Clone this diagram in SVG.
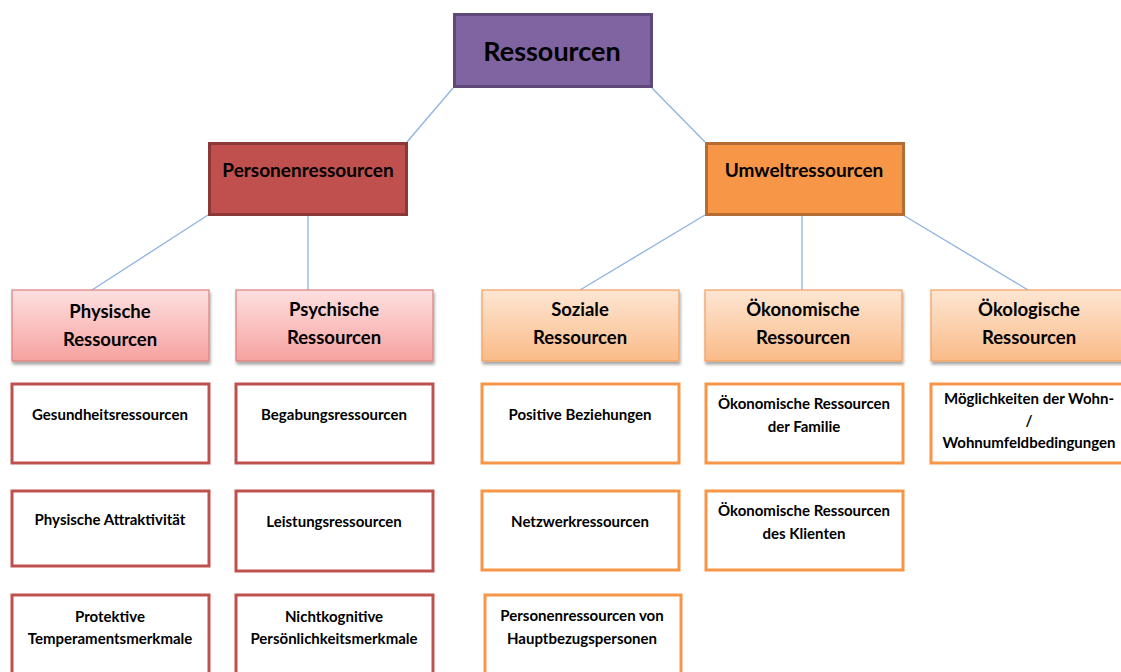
<svg xmlns="http://www.w3.org/2000/svg" width="1121" height="672" viewBox="0 0 1121 672">
<defs>
<linearGradient id="gRed" x1="0" y1="0" x2="0" y2="1"><stop offset="0" stop-color="#fde0e0"/><stop offset="1" stop-color="#f6a2a0"/></linearGradient>
<linearGradient id="gOr" x1="0" y1="0" x2="0" y2="1"><stop offset="0" stop-color="#fde6d3"/><stop offset="1" stop-color="#fabb88"/></linearGradient>
<filter id="sh" x="-10%" y="-10%" width="130%" height="140%"><feDropShadow dx="1" dy="3" stdDeviation="1.8" flood-color="#000" flood-opacity="0.35"/></filter>
<style>
text{font-family:Lato,"Liberation Sans",sans-serif;font-weight:bold;fill:#000;text-anchor:middle}
.t1{font-size:27px}
.t2{font-size:19px}
.t3{font-size:18.5px}
.t4{font-size:15px}
.conn line{stroke:#8db3e2;stroke-width:1.3}
.r2{fill:url(#gRed);stroke:#d9807e;stroke-width:1.2;filter:url(#sh)}
.o2{fill:url(#gOr);stroke:#f0a060;stroke-width:1.2;filter:url(#sh)}
.r3{fill:#fff;stroke:#c0504d;stroke-width:3}
.o3{fill:#fff;stroke:#f79646;stroke-width:3}
</style>
</defs>
<rect width="1121" height="672" fill="#fff"/>
<g class="conn" id="connectors">
<line x1="453" y1="88" x2="407" y2="142"/>
<line x1="652" y1="88" x2="705" y2="142"/>
<line x1="208" y1="215" x2="92" y2="290"/>
<line x1="308" y1="215" x2="308" y2="290"/>
<line x1="705" y1="215" x2="580" y2="290"/>
<line x1="802" y1="215" x2="802" y2="290"/>
<line x1="903" y1="215" x2="1028" y2="290"/>
</g>
<g id="n-ressourcen"><rect x="454.5" y="14.5" width="197" height="72" fill="#8064a2" stroke="#5f497a" stroke-width="3"/><text class="t1" x="552" y="61">Ressourcen</text></g>
<g id="n-personen"><rect x="209.5" y="143.5" width="197" height="71" fill="#c0504d" stroke="#8c3836" stroke-width="3"/><text class="t2" x="308" y="177">Personenressourcen</text></g>
<g id="n-umwelt"><rect x="706.5" y="143.5" width="197" height="71" fill="#f79646" stroke="#b66d31" stroke-width="3"/><text class="t2" x="804" y="177">Umweltressourcen</text></g>

<g id="n-physische"><rect class="r2" x="12" y="290" width="197" height="71"/><text class="t3" x="110" y="318">Physische</text><text class="t3" x="110" y="346">Ressourcen</text></g>
<g id="n-psychische"><rect class="r2" x="236" y="290" width="197" height="71"/><text class="t3" x="334" y="316">Psychische</text><text class="t3" x="334" y="344">Ressourcen</text></g>
<g id="n-soziale"><rect class="o2" x="482" y="290" width="197" height="71"/><text class="t3" x="580" y="316">Soziale</text><text class="t3" x="580" y="344">Ressourcen</text></g>
<g id="n-oekonomische"><rect class="o2" x="705" y="290" width="197" height="71"/><text class="t3" x="803" y="316">Ökonomische</text><text class="t3" x="803" y="344">Ressourcen</text></g>
<g id="n-oekologische"><rect class="o2" x="931" y="290" width="197" height="71"/><text class="t3" x="1029" y="316">Ökologische</text><text class="t3" x="1029" y="344">Ressourcen</text></g>

<g id="n-gesundheit"><rect class="r3" x="12" y="384" width="197" height="79"/><text class="t4" x="110" y="420">Gesundheitsressourcen</text></g>
<g id="n-attraktiv"><rect class="r3" x="12" y="491" width="197" height="75"/><text class="t4" x="110" y="525">Physische Attraktivität</text></g>
<g id="n-protektiv"><rect class="r3" x="12" y="595" width="197" height="90"/><text class="t4" x="110" y="622">Protektive</text><text class="t4" x="110" y="644">Temperamentsmerkmale</text></g>
<g id="n-begabung"><rect class="r3" x="236" y="384" width="197" height="79"/><text class="t4" x="334" y="420">Begabungsressourcen</text></g>
<g id="n-leistung"><rect class="r3" x="236" y="491" width="197" height="80"/><text class="t4" x="334" y="527">Leistungsressourcen</text></g>
<g id="n-nichtkog"><rect class="r3" x="236" y="595" width="197" height="90"/><text class="t4" x="334" y="622">Nichtkognitive</text><text class="t4" x="334" y="644">Persönlichkeitsmerkmale</text></g>

<g id="n-positive"><rect class="o3" x="482" y="384" width="197" height="79"/><text class="t4" x="580" y="420">Positive Beziehungen</text></g>
<g id="n-netzwerk"><rect class="o3" x="482" y="491" width="197" height="79"/><text class="t4" x="580" y="527">Netzwerkressourcen</text></g>
<g id="n-hauptbezug"><rect class="o3" x="485" y="595" width="196" height="90"/><text class="t4" x="582" y="621">Personenressourcen von</text><text class="t4" x="582" y="644">Hauptbezugspersonen</text></g>
<g id="n-familie"><rect class="o3" x="706" y="384" width="197" height="79"/><text class="t4" x="804" y="409">Ökonomische Ressourcen</text><text class="t4" x="804" y="432">der Familie</text></g>
<g id="n-klienten"><rect class="o3" x="706" y="491" width="197" height="79"/><text class="t4" x="804" y="516">Ökonomische Ressourcen</text><text class="t4" x="804" y="539">des Klienten</text></g>
<g id="n-wohn"><rect class="o3" x="931" y="384" width="197" height="79"/><text class="t4" x="1029" y="404">Möglichkeiten der Wohn-</text><text class="t4" x="1029" y="426">/</text><text class="t4" x="1029" y="448">Wohnumfeldbedingungen</text></g>
</svg>
